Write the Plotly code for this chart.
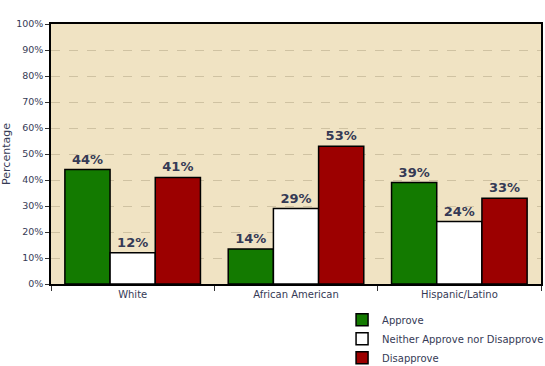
import plotly.graph_objects as go

categories = ["White", "African American", "Hispanic/Latino"]
approve = [44, 13.5, 39]
neither = [12, 29, 24]
disapprove = [41, 53, 33]
approve_lbl = ["44%", "14%", "39%"]
neither_lbl = ["12%", "29%", "24%"]
disapprove_lbl = ["41%", "53%", "33%"]
y_ticks = [0, 10, 20, 30, 40, 50, 60, 70, 80, 90, 100]
y_ticklabels = [f"{v}%" for v in y_ticks]

txt_color = "#353a55"
font_fam = "DejaVu Sans, Verdana, sans-serif"

fig = go.Figure()
for name, vals, lbls, col in [
    ("Approve", approve, approve_lbl, "#137a00"),
    ("Neither Approve nor Disapprove", neither, neither_lbl, "#ffffff"),
    ("Disapprove", disapprove, disapprove_lbl, "#9c0000"),
]:
    fig.add_trace(go.Bar(
        x=categories, y=vals, name=name, text=lbls,
        textposition="outside", cliponaxis=False,
        textfont=dict(family=font_fam, size=13, color=txt_color, weight="bold"),
        marker=dict(color=col, line=dict(color="#000000", width=1.5)),
    ))

fig.update_layout(
    width=545, height=366,
    margin=dict(l=51, r=4, t=24, b=82, autoexpand=False),
    paper_bgcolor="#ffffff", plot_bgcolor="#f0e3c3",
    barmode="group", bargap=0.17, bargroupgap=0,
    font=dict(family=font_fam, size=10, color=txt_color),
    showlegend=True,
    legend=dict(x=0.594, y=-0.082, xanchor="left", yanchor="top",
                font=dict(family=font_fam, size=10, color=txt_color),
                tracegroupgap=0, itemwidth=30, bgcolor="rgba(0,0,0,0)"),
    xaxis=dict(showline=True, linecolor="#000000", linewidth=1.5, mirror=True,
               ticks="outside", ticklen=5, tickcolor="#333333",
               tickson="boundaries", showgrid=False, automargin=False,
               tickfont=dict(family=font_fam, size=10, color=txt_color)),
    yaxis=dict(range=[0, 100], tickvals=y_ticks, ticktext=y_ticklabels,
               showline=True, linecolor="#000000", linewidth=1.5, mirror=True,
               ticks="outside", ticklen=4, tickcolor="#333333",
               showgrid=True, gridcolor="#cfc2a2", griddash="dash", gridwidth=1,
               zeroline=False, automargin=False,
               title=dict(text="Percentage", standoff=4,
                          font=dict(family=font_fam, size=11, color=txt_color)),
               tickfont=dict(family=font_fam, size=9.5, color=txt_color)),
)

fig.write_html(
    "out.html",
    config={"displayModeBar": False},
    post_script="document.body.style.margin='0';"
                "document.documentElement.style.overflow='hidden';",
)
